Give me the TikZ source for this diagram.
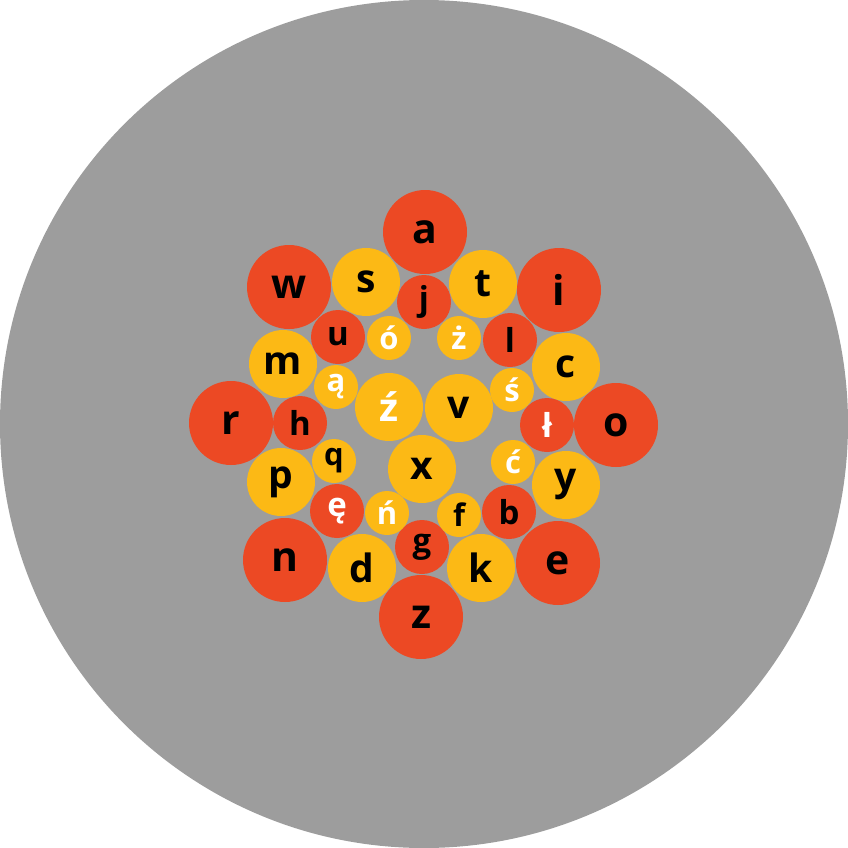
\documentclass[tikz,border=0pt]{standalone}
\usepackage{fontspec}
\setmainfont{Open Sans}
\definecolor{bggray}{RGB}{157,157,157}
\definecolor{bubred}{RGB}{236,73,36}
\definecolor{bubyel}{RGB}{252,185,21}
\begin{document}
\begin{tikzpicture}[x=1pt,y=-1pt,
  bub/.style={circle,inner sep=0pt,draw=none},
  redL/.style={bub,fill=bubred,minimum size=84pt,font=\fontsize{41}{41}\selectfont\bfseries},
  redS/.style={bub,fill=bubred,minimum size=54pt,font=\fontsize{33}{33}\selectfont\bfseries},
  yelM/.style={bub,fill=bubyel,minimum size=68pt,font=\fontsize{39}{39}\selectfont\bfseries},
  yelS/.style={bub,fill=bubyel,minimum size=44pt,font=\fontsize{31}{31}\selectfont\bfseries},
  wt/.style={text=white},
  bk/.style={text=black}]
\useasboundingbox (0,0) rectangle (848,848);
\fill[bggray] (424,424) circle (424);
% large red
\node[redL,bk] (a) at (425,232) {a};
\node[redL,bk] (w) at (289,287) {w};
\node[redL,bk] (i) at (559,290) {i};
\node[redL,bk] (r) at (231,423) {r};
\node[redL,bk] (o) at (616,425) {o};
\node[redL,bk] (n) at (285,560) {n};
\node[redL,bk] (e) at (558,563) {e};
\node[redL,bk] (z) at (421,617) {z};
% medium yellow
\node[yelM,bk] (s) at (366,282) {s};
\node[yelM,bk] (t) at (483,284) {t};
\node[yelM,bk] (m) at (283,364) {m};
\node[yelM,bk] (c) at (566,367) {c};
\node[yelM,bk] (p) at (281,482) {p};
\node[yelM,bk] (y) at (566,485) {y};
\node[yelM,bk] (d) at (362,568) {d};
\node[yelM,bk] (k) at (481,568) {k};
\node[yelM,wt] (zacute) at (389,407) {ź};
\node[yelM,bk] (v) at (459,408) {v};
\node[yelM,bk] (x) at (422,469) {x};
% small red
\node[redS,bk] (j) at (424,302) {j};
\node[redS,bk] (u) at (338,337) {u};
\node[redS,bk] (l) at (510,340) {l};
\node[redS,bk] (h) at (300,423) {h};
\node[redS,wt] (lstroke) at (547,425) {ł};
\node[redS,wt] (eogonek) at (337,511) {ę};
\node[redS,bk] (b) at (509,512) {b};
\node[redS,bk] (g) at (422,547) {g};
% small yellow
\node[yelS,wt] (oacute) at (389,338) {ó};
\node[yelS,wt] (zdot) at (459,338) {ż};
\node[yelS,wt] (aogonek) at (336,387) {ą};
\node[yelS,wt] (sacute) at (512,390) {ś};
\node[yelS,bk] (q) at (334,461) {q};
\node[yelS,wt] (cacute) at (513,462) {ć};
\node[yelS,wt] (nacute) at (387,513) {ń};
\node[yelS,bk] (f) at (459,515) {f};
\end{tikzpicture}
\end{document}
